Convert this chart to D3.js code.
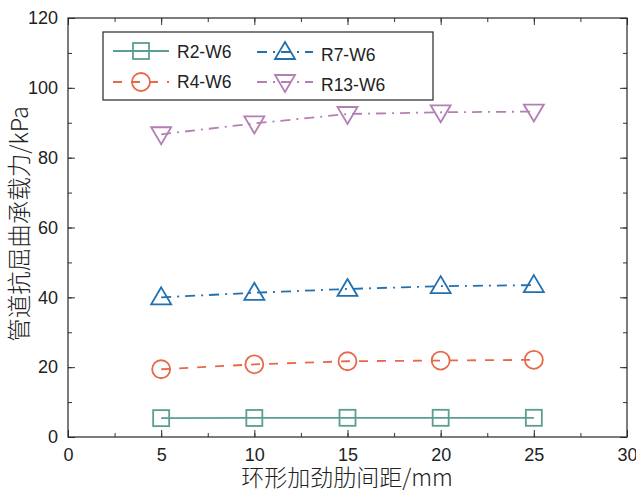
<!DOCTYPE html>
<html>
<head>
<meta charset="utf-8">
<script src="https://cdn.jsdelivr.net/npm/d3@7"></script>
<style>
  body { margin: 0; background: #fff; }
  text { font-family: "Liberation Sans", Arial, sans-serif; fill: #222; }
</style>
</head>
<body>
<div id="chart"></div>
<script>
var spacing = [5, 10, 15, 20, 25];
var r2_w6 = [5.4, 5.45, 5.5, 5.5, 5.5];
var r4_w6 = [19.4, 20.8, 21.7, 21.9, 22.1];
var r7_w6 = [40.0, 41.3, 42.4, 43.2, 43.5];
var r13_w6 = [86.7, 89.8, 92.5, 93.0, 93.2];
var x_ticks = [0, 5, 10, 15, 20, 25, 30];
var y_ticks = [0, 20, 40, 60, 80, 100, 120];

var series = [
  {name: 'R2-W6', values: r2_w6, color: '#5a9e93', dash: null, marker: 'square'},
  {name: 'R4-W6', values: r4_w6, color: '#e8684a', dash: '9,9', marker: 'circle'},
  {name: 'R7-W6', values: r7_w6, color: '#2170b0', dash: '10,6,2,6', marker: 'triangle'},
  {name: 'R13-W6', values: r13_w6, color: '#b47fb3', dash: '10,6,2,6', marker: 'down'}
];

var svg_w = 636, svg_h = 491;
var p_left = 68, p_right = 627, p_top = 18, p_bottom = 437;

var svg = d3.select('#chart').append('svg')
    .attr('width', svg_w)
    .attr('height', svg_h);

var x = d3.scaleLinear().domain([0, 30]).range([p_left, p_right]);
var y = d3.scaleLinear().domain([0, 120]).range([p_bottom, p_top]);

// axes with inward ticks
var minor_x = d3.range(0, 30.01, 2.5);
var minor_y = d3.range(0, 120.01, 10);

function no_domain(g) { g.select('.domain').remove(); }

svg.append('g')
  .attr('transform', 'translate(0,' + p_bottom + ')')
  .call(d3.axisBottom(x).tickValues(minor_x).tickSize(-4).tickFormat(''))
  .call(no_domain);
svg.append('g')
  .attr('transform', 'translate(0,' + p_top + ')')
  .call(d3.axisTop(x).tickValues(minor_x).tickSize(-4).tickFormat(''))
  .call(no_domain);
svg.append('g')
  .attr('transform', 'translate(' + p_left + ',0)')
  .call(d3.axisLeft(y).tickValues(minor_y).tickSize(-4).tickFormat(''))
  .call(no_domain);
svg.append('g')
  .attr('transform', 'translate(' + p_right + ',0)')
  .call(d3.axisRight(y).tickValues(minor_y).tickSize(-4).tickFormat(''))
  .call(no_domain);

var xb = svg.append('g')
  .attr('transform', 'translate(0,' + p_bottom + ')')
  .call(d3.axisBottom(x).tickValues(x_ticks).tickSize(-7).tickPadding(11).tickFormat(d3.format('d')))
  .call(no_domain);
xb.selectAll('text').attr('font-size', 18).attr('fill', '#222').style('font-family', '"Liberation Sans", Arial, sans-serif');

svg.append('g')
  .attr('transform', 'translate(0,' + p_top + ')')
  .call(d3.axisTop(x).tickValues(x_ticks).tickSize(-7).tickFormat(''))
  .call(no_domain);

var yl = svg.append('g')
  .attr('transform', 'translate(' + p_left + ',0)')
  .call(d3.axisLeft(y).tickValues(y_ticks).tickSize(-7).tickPadding(10).tickFormat(d3.format('d')))
  .call(no_domain);
yl.selectAll('text').attr('font-size', 18).attr('fill', '#222').style('font-family', '"Liberation Sans", Arial, sans-serif');

svg.append('g')
  .attr('transform', 'translate(' + p_right + ',0)')
  .call(d3.axisRight(y).tickValues(y_ticks).tickSize(-7).tickFormat(''))
  .call(no_domain);

svg.selectAll('.tick line').attr('stroke', '#333').attr('stroke-width', 1);

svg.append('rect')
  .attr('x', p_left)
  .attr('y', p_top)
  .attr('width', p_right - p_left)
  .attr('height', p_bottom - p_top)
  .attr('fill', 'none')
  .attr('stroke', '#262626')
  .attr('stroke-width', 1.2);

function draw_marker(g, type, cx, cy, color) {
  if (type == 'square') {
    g.append('rect')
      .attr('x', cx - 8).attr('y', cy - 8)
      .attr('width', 16).attr('height', 16)
      .attr('fill', 'none').attr('stroke', color).attr('stroke-width', 1.8);
  } else if (type == 'circle') {
    g.append('circle')
      .attr('cx', cx).attr('cy', cy).attr('r', 9)
      .attr('fill', 'none').attr('stroke', color).attr('stroke-width', 1.8);
  } else if (type == 'triangle') {
    g.append('path')
      .attr('d', 'M' + cx + ',' + (cy - 10) + ' L' + (cx + 10) + ',' + (cy + 7) + ' L' + (cx - 10) + ',' + (cy + 7) + 'Z')
      .attr('fill', 'none').attr('stroke', color).attr('stroke-width', 1.8);
  } else {
    g.append('path')
      .attr('d', 'M' + cx + ',' + (cy + 10) + ' L' + (cx + 10) + ',' + (cy - 7) + ' L' + (cx - 10) + ',' + (cy - 7) + 'Z')
      .attr('fill', 'none').attr('stroke', color).attr('stroke-width', 1.8);
  }
}

var line = d3.line()
  .x(function(d) { return x(d[0]); })
  .y(function(d) { return y(d[1]); });

series.forEach(function(s) {
  var pts = spacing.map(function(v, i) { return [v, s.values[i]]; });
  var g = svg.append('g');
  g.append('path')
    .datum(pts)
    .attr('d', line)
    .attr('fill', 'none')
    .attr('stroke', s.color)
    .attr('stroke-width', 1.8)
    .attr('stroke-dasharray', s.dash);
  pts.forEach(function(p) {
    draw_marker(g, s.marker, x(p[0]), y(p[1]), s.color);
  });
});

// legend
var lg = svg.append('g');
lg.append('rect')
  .attr('x', 103).attr('y', 32)
  .attr('width', 330).attr('height', 68)
  .attr('fill', '#fff')
  .attr('stroke', '#262626')
  .attr('stroke-width', 1.2);

var legend_pos = [
  {x: 113, y: 51, ty: 52},
  {x: 113, y: 82, ty: 82},
  {x: 257, y: 52, ty: 55},
  {x: 257, y: 82, ty: 85}
];

series.forEach(function(s, i) {
  var p = legend_pos[i];
  lg.append('line')
    .attr('x1', p.x).attr('x2', p.x + 56)
    .attr('y1', p.y).attr('y2', p.y)
    .attr('stroke', s.color)
    .attr('stroke-width', 1.8)
    .attr('stroke-dasharray', s.dash);
  draw_marker(lg, s.marker, p.x + 28, p.y, s.color);
  lg.append('text')
    .attr('x', p.x + 64)
    .attr('y', p.ty)
    .attr('dy', '0.35em')
    .attr('font-size', 17.5)
    .text(s.name);
});

svg.append('text')
  .attr('x', 347)
  .attr('y', 478)
  .attr('dy', '0.35em')
  .attr('text-anchor', 'middle')
  .attr('font-size', 23)
  .attr('font-weight', 300)
  .style('font-family', '"Noto Sans CJK SC", "Liberation Sans", sans-serif')
  .text('环形加劲肋间距/mm');

svg.append('text')
  .attr('transform', 'translate(20,' + 224 + ') rotate(-90)')
  .attr('dy', '0.35em')
  .attr('text-anchor', 'middle')
  .attr('font-size', 23.5)
  .attr('font-weight', 300)
  .style('font-family', '"Noto Sans CJK SC", "Liberation Sans", sans-serif')
  .text('管道抗屈曲承载力/kPa');
</script>
</body>
</html>
